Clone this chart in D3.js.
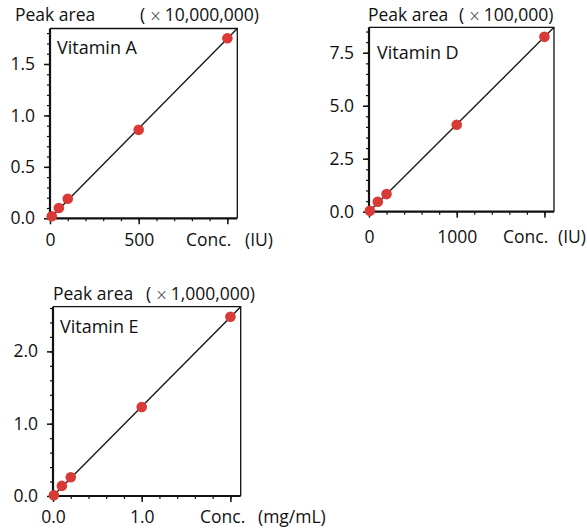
<!DOCTYPE html>
<html><head><meta charset="utf-8">
<script src="https://cdn.jsdelivr.net/npm/d3@7"></script>
<style>
body{margin:0;background:#fff;}
text{font-family:"Open Sans","Noto Sans",sans-serif;fill:#111;}
</style></head>
<body><svg id="c" width="587" height="531"></svg>
<script>
// ---- data ----
const panelNames = ["Vitamin A", "Vitamin D", "Vitamin E"];
const scaleFactors = ["10,000,000", "100,000", "1,000,000"];
const xUnits = ["(IU)", "(IU)", "(mg/mL)"];

const vitA_conc = [10, 50, 100, 500, 1000];
const vitA_area = [0.02, 0.10, 0.19, 0.86, 1.75];
const vitD_conc = [10, 100, 200, 1000, 2000];
const vitD_area = [0.04, 0.47, 0.83, 4.10, 8.25];
const vitE_conc = [0.01, 0.1, 0.2, 1.0, 2.0];
const vitE_area = [0.01, 0.14, 0.26, 1.23, 2.48];

const fitSlopes = [0.001747, 0.004125, 1.237];

const xMajorA = [0, 500, 1000], xLabelsA = ["0", "500", ""];
const yMajorA = [0, 0.5, 1.0, 1.5], yLabelsA = ["0.0", "0.5", "1.0", "1.5"];
const xMajorD = [0, 1000, 2000], xLabelsD = ["0", "1000", ""];
const yMajorD = [0, 2.5, 5.0, 7.5], yLabelsD = ["0.0", "2.5", "5.0", "7.5"];
const xMajorE = [0, 1.0, 2.0], xLabelsE = ["0.0", "1.0", ""];
const yMajorE = [0, 1.0, 2.0], yLabelsE = ["0.0", "1.0", "2.0"];

// ---- layout ----
const panels = [
  {conc: vitA_conc, area: vitA_area, box: [50, 28.5, 237.3, 218.3], xDom: [0, 1056], yDom: [0, 1.845],
   xMaj: xMajorA, xLab: xLabelsA, yMaj: yMajorA, yLab: yLabelsA, xMinStep: 100, xMinMax: 1000, yMinStep: 0.1, yMinMax: 1.8,
   titleX: 15, titleY: 21, factorX: 140, nameX: 57, nameY: 54, concX: 186, unitX: 245, xLabY: 246},
  {conc: vitD_conc, area: vitD_area, box: [369, 27.3, 554, 211.7], xDom: [0, 2109], yDom: [0, 8.7],
   xMaj: xMajorD, xLab: xLabelsD, yMaj: yMajorD, yLab: yLabelsD, xMinStep: 200, xMinMax: 2000, yMinStep: 0.5, yMinMax: 8.5,
   titleX: 368, titleY: 21, factorX: 459, nameX: 377, nameY: 59, concX: 503, unitX: 558, xLabY: 243},
  {conc: vitE_conc, area: vitE_area, box: [53, 306.7, 240.7, 496], xDom: [0, 2.116], yDom: [0, 2.618],
   xMaj: xMajorE, xLab: xLabelsE, yMaj: yMajorE, yLab: yLabelsE, xMinStep: 0.2, xMinMax: 2.0, yMinStep: 0.2, yMinMax: 2.6,
   titleX: 53, titleY: 300, factorX: 146, nameX: 60, nameY: 333, concX: 200, unitX: 258, xLabY: 523}
];

const svg = d3.select("#c");
const FS = 17.5;

panels.forEach((p, i) => {
  const [L, T, R, B] = p.box;
  const x = d3.scaleLinear().domain(p.xDom).range([L, R]);
  const y = d3.scaleLinear().domain(p.yDom).range([B, T]);
  const g = svg.append("g");

  const cid = "clip" + i;
  svg.append("clipPath").attr("id", cid).append("rect").attr("x", L).attr("y", T).attr("width", R - L).attr("height", B - T);

  g.append("path").attr("d", `M${L},${T}H${R}V${B}`).attr("fill", "none").attr("stroke", "#111").attr("stroke-width", 1.3);

  const xMinor = d3.range(0, p.xMinMax + p.xMinStep / 2, p.xMinStep);
  const yMinor = d3.range(0, p.yMinMax + p.yMinStep / 2, p.yMinStep);
  const xAxisMinor = d3.axisBottom(x).tickValues(xMinor).tickSize(3).tickFormat("");
  const yAxisMinor = d3.axisLeft(y).tickValues(yMinor).tickSize(3).tickFormat("");
  g.append("g").attr("transform", `translate(0,${B})`).call(xAxisMinor).call(a => a.select(".domain").remove())
    .selectAll("line").attr("stroke", "#111").attr("stroke-width", 1.2);
  g.append("g").attr("transform", `translate(${L},0)`).call(yAxisMinor).call(a => a.select(".domain").remove())
    .selectAll("line").attr("stroke", "#111").attr("stroke-width", 1.2);

  const xAxis = d3.axisBottom(x).tickValues(p.xMaj).tickSize(6).tickPadding(6)
    .tickFormat((d, k) => p.xLab[k]);
  const yAxis = d3.axisLeft(y).tickValues(p.yMaj).tickSize(6).tickPadding(9)
    .tickFormat((d, k) => p.yLab[k]);
  const xa = g.append("g").attr("transform", `translate(0,${B})`).call(xAxis);
  xa.select(".domain").remove();
  xa.selectAll("line").attr("stroke", "#111").attr("stroke-width", 1.5);
  xa.selectAll("text").attr("font-size", FS).attr("font-family", null).attr("fill", "#111")
    .attr("dy", null).attr("y", p.xLabY - B);
  const ya = g.append("g").attr("transform", `translate(${L},0)`).call(yAxis);
  ya.select(".domain").remove();
  ya.selectAll("line").attr("stroke", "#111").attr("stroke-width", 1.5);
  ya.selectAll("text").attr("font-size", FS).attr("font-family", null).attr("fill", "#111");

  g.append("path").attr("d", `M${L},${T}V${B}H${R}`).attr("fill", "none").attr("stroke", "#111").attr("stroke-width", 2.2);

  const fit = [[p.xDom[0], 0], [p.xDom[1], fitSlopes[i] * p.xDom[1]]];
  g.append("path").attr("clip-path", `url(#${cid})`)
    .attr("d", d3.line().x(d => x(d[0])).y(d => y(d[1]))(fit))
    .attr("stroke", "#1a1a1a").attr("stroke-width", 1.4).attr("fill", "none");

  g.selectAll("circle.pt").data(p.conc.map((c, k) => [c, p.area[k]])).join("circle")
    .attr("class", "pt").attr("cx", d => x(d[0])).attr("cy", d => y(d[1])).attr("r", 5.3)
    .attr("fill", "#d93a36");

  g.append("text").attr("x", p.titleX).attr("y", p.titleY).attr("font-size", FS).text("Peak area");
  const f = g.append("text").attr("x", p.factorX).attr("y", p.titleY).attr("font-size", FS);
  f.append("tspan").text("(");
  f.append("tspan").attr("dx", 4).attr("font-size", 15).attr("font-family", "DejaVu Sans").attr("font-weight", 300)
    .attr("fill", "#333").text("×");
  f.append("tspan").attr("dx", 3).text(scaleFactors[i] + ")");
  g.append("text").attr("x", p.nameX).attr("y", p.nameY).attr("font-size", 18).text(panelNames[i]);
  g.append("text").attr("x", p.concX).attr("y", p.xLabY).attr("font-size", FS).text("Conc.");
  g.append("text").attr("x", p.unitX).attr("y", p.xLabY).attr("font-size", FS).text(xUnits[i]);
});
</script></body></html>
